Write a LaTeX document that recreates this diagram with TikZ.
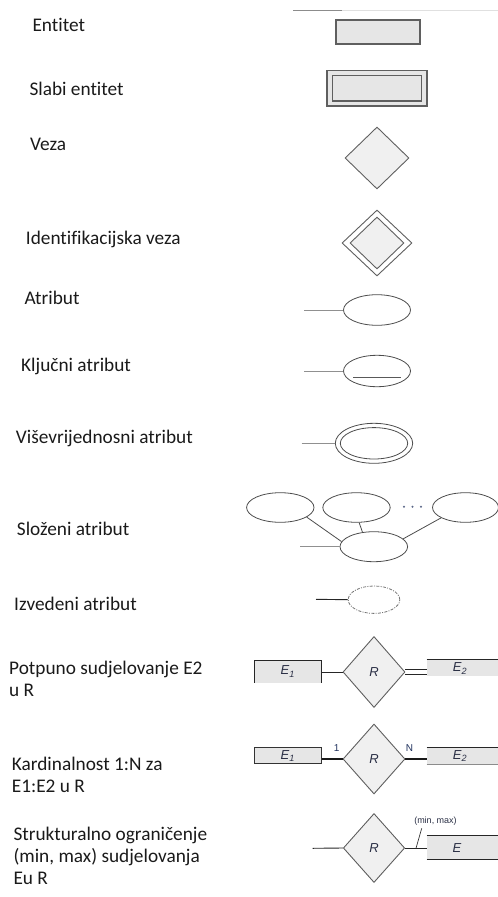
\documentclass[tikz,border=0pt]{standalone}
\usepackage{fontspec}
\setmainfont{Carlito}[Ligatures={NoCommon}]
\newfontfamily\ersf{Liberation Sans}
\usetikzlibrary{shapes.geometric}
\definecolor{bordc}{HTML}{5F5F5F}
\definecolor{entfill}{HTML}{E6E6E6}
\definecolor{relfill}{HTML}{F0F0F0}
\definecolor{attline}{HTML}{909090}
\definecolor{lblc}{HTML}{1A1A1A}
\definecolor{erlbl}{HTML}{2A2F45}
\definecolor{cardc}{HTML}{22335F}
\begin{document}
\begin{tikzpicture}[x=1pt,y=-1pt,
  lbl/.style={anchor=base west, inner sep=0, font=\fontsize{19.3}{22.4}\selectfont, text=lblc, align=left},
  ent/.style={rectangle, draw=bordc, fill=entfill, line width=1.2pt, inner sep=0},
  entfillonly/.style={rectangle, fill=entfill, inner sep=0},
  rel/.style={diamond, draw=bordc, fill=relfill, line width=0.9pt, inner sep=0},
  att/.style={ellipse, draw=black!70, line width=0.8pt, inner sep=0},
  attline/.style={draw=attline, line width=0.9pt},
  erl/.style={font=\ersf\itshape\fontsize{13}{14}\selectfont, text=erlbl, inner sep=0},
  dark/.style={draw=black!85, line width=0.9pt},
]
\useasboundingbox (0,0) rectangle (498,897);

% top rule
\draw[black!12, line width=0.6pt] (293,10) -- (498,10);
\draw[black!45, line width=0.8pt] (293,10) -- (342,10);

% ---------- labels
\node[lbl] (l1) at (32.3,31.7) {Entitet};
\node[lbl] (l2) at (29.3,95.7) {Slabi entitet};
\node[lbl] (l3) at (30,150.7) {Veza};
\node[lbl] (l4) at (25.7,244) {Identifikacijska veza};
\node[lbl] (l5) at (24.3,304.3) {Atribut};
\node[lbl] (l6) at (21,371.7) {Ključni atribut};
\node[lbl] (l7) at (15.7,443.3) {Viševrijednosni atribut};
\node[lbl] (l8) at (16.7,535) {Složeni atribut};
\node[lbl] (l9) at (14,610) {Izvedeni atribut};
\node[lbl] (l10a) at (9,674.3) {Potpuno sudjelovanje E2};
\node[lbl] (l10b) at (9,696.7) {u R};
\node[lbl] (l11a) at (11.7,770) {Kardinalnost 1:N za};
\node[lbl] (l11b) at (11.7,792.4) {E1:E2 u R};
\node[lbl] (l12a) at (13.3,840) {Strukturalno ograničenje};
\node[lbl] (l12b) at (13.3,862) {(min, max) sudjelovanja};
\node[lbl] (l12c) at (13.3,884) {Eu R};

% ---------- entity
\node[ent, minimum width=84pt, minimum height=24pt] (ent) at (378,32) {};

% ---------- weak entity
\node[ent, minimum width=100pt, minimum height=35.3pt] (weako) at (377,88.3) {};
\node[ent, minimum width=89pt, minimum height=25.7pt] (weaki) at (377.2,88.2) {};

% ---------- relationship
\node[rel, minimum width=64pt, minimum height=62pt] (veza) at (377,158) {};

% ---------- identifying relationship
\node[rel, fill=white, minimum width=70pt, minimum height=66pt] (idro) at (377,243) {};
\node[rel, minimum width=54pt, minimum height=52pt] (idri) at (377,243) {};

% ---------- attribute
\coordinate (a1s) at (304,310);
\node[att, minimum width=67pt, minimum height=30.6pt] (a1) at (377,310) {};
\draw[attline] (a1s) -- (a1.west);

% ---------- key attribute
\coordinate (a2s) at (304,371);
\node[att, minimum width=67pt, minimum height=31.4pt] (a2) at (377,371) {};
\draw[attline] (a2s) -- (a2.west);
\coordinate (u1) at (353.3,377.7);
\coordinate (u2) at (401.3,377.7);
\draw[black!65, line width=1.4pt] (u1) -- (u2);

% ---------- multivalued attribute
\coordinate (a3s) at (301.7,443.3);
\node[att, minimum width=77.4pt, minimum height=40pt] (a3o) at (374,443.3) {};
\node[att, minimum width=67.4pt, minimum height=31.4pt] (a3i) at (374,443.3) {};
\draw[attline] (a3s) -- (a3o.west);

% ---------- composite attribute
\node[att, minimum width=67.4pt, minimum height=29.6pt] (c1) at (280.3,507.5) {};
\node[att, minimum width=67.4pt, minimum height=29.6pt] (c2) at (356.5,507.5) {};
\node[att, minimum width=66pt, minimum height=29.6pt] (c3) at (465.5,507.5) {};
\node[att, minimum width=67.6pt, minimum height=30pt] (cm) at (373.8,546.7) {};
\coordinate (c0s) at (300,546.7);
\draw[attline] (c0s) -- (cm.west);
\draw[black!70, line width=0.8pt] (c1.-20) -- (cm.171);
\draw[black!70, line width=0.8pt] (c2.-80) -- (cm.128);
\draw[black!70, line width=0.8pt] (c3.203) -- (cm.15);
\foreach \xx in {404,412.5,421} \fill[cardc!75] (\xx,506.7) circle (1.1pt);

% ---------- derived attribute
\coordinate (dvs) at (316,599.3);
\node[ellipse, draw=black!55, line width=0.8pt, inner sep=0, dash pattern=on 3pt off 1.3pt on 1pt off 1.3pt, minimum width=51.6pt, minimum height=27.4pt] (dv) at (374,599.7) {};
\draw[dark] (dvs) -- (dv.west);

% ---------- total participation
\node[entfillonly, minimum width=66.7pt, minimum height=22pt] (p1) at (287.7,671.5) {};
\draw[dark, line width=1pt] (p1.south west) -- (p1.north west) -- (p1.north east) -- (p1.south east);
\node[erl] at (p1.center) {E\textsubscript{1}};
\node[rel, minimum width=62pt, minimum height=71pt] (pr) at (374,672) {};
\node[erl] at (pr.center) {R};
\node[entfillonly, minimum width=73pt, minimum height=16.7pt, anchor=west] (p2) at (426.7,667.7) {};
\draw[dark, line width=1pt] (p2.north west) -- (p2.north east);
\node[erl] at (460,668.5) {E\textsubscript{2}};
\draw[dark] (p1.east |- pr.west) -- (pr.west);
\draw[dark] ([yshift=2.5pt]pr.east) -- ([yshift=2.5pt]pr.east -| p2.west);
\draw[dark] ([yshift=-2.5pt]pr.east) -- ([yshift=-2.5pt]pr.east -| p2.west);

% ---------- cardinality 1:N
\node[ent, draw=black!80, line width=1pt, minimum width=66.7pt, minimum height=16pt] (k1) at (287.7,755.7) {};
\node[erl] at (k1.center) {E\textsubscript{1}};
\node[rel, minimum width=62pt, minimum height=70pt] (kr) at (374,759) {};
\node[erl] at (kr.center) {R};
\node[entfillonly, minimum width=73pt, minimum height=16pt, anchor=west] (k2) at (426.7,755.7) {};
\draw[dark, line width=1pt] (k2.north west) -- (k2.north east);
\draw[black!45, line width=0.8pt] (k2.south west) -- (k2.south east);
\node[erl] at (460,756) {E\textsubscript{2}};
\draw[black!90, line width=1.6pt] (k1.east |- kr.west) -- (kr.west);
\draw[black!90, line width=1.6pt] (kr.east) -- (kr.east -| k2.west);
\node[font=\ersf\fontsize{10}{11}\selectfont, text=cardc, anchor=base, inner sep=0] (one) at (336.7,751.5) {1};
\node[font=\ersf\fontsize{10}{11}\selectfont, text=cardc, anchor=base, inner sep=0] (nn) at (409.5,751.5) {N};

% ---------- structural constraint
\coordinate (ss) at (312.7,848.3);
\node[rel, minimum width=61.4pt, minimum height=69pt] (sr) at (374,848) {};
\node[erl] at (sr.center) {R};
\node[entfillonly, minimum width=73pt, minimum height=23.3pt, anchor=west] (se) at (426.7,847.7) {};
\draw[dark, line width=1pt] (se.north west) -- (se.north east);
\draw[dark, line width=1pt] (se.south west) -- (se.south east);
\node[erl] at (457,848) {E};
\draw[dark] (ss) -- (sr.west);
\draw[dark] (sr.east) -- (sr.east -| se.west);
\node[font=\ersf\fontsize{9}{10}\selectfont, text=erlbl, inner sep=0] (mm) at (435.5,821) {(min, max)};
\coordinate (sl1) at (421.7,828.3);
\coordinate (sl2) at (416,848.3);
\draw[black!80, line width=0.7pt] (sl1) -- (sl2);
\end{tikzpicture}
\end{document}
